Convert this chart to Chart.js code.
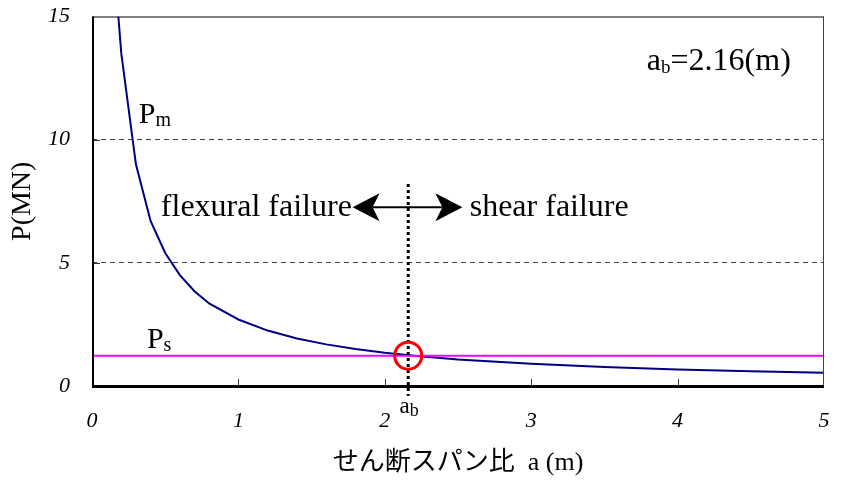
<!DOCTYPE html>
<html>
<head>
<meta charset="utf-8">
<script src="https://cdn.jsdelivr.net/npm/chart.js@4"></script>
<style>
  html, body { margin: 0; padding: 0; background: #fff; }
  #wrap { width: 843px; height: 483px; }
</style>
</head>
<body>
<div id="wrap"><canvas id="chart"></canvas></div>
<script>
// shear span a (m) and bending capacity Pm (MN)
const spanA = [0.18, 0.2, 0.3, 0.4, 0.5, 0.6, 0.7, 0.8, 1.0, 1.2, 1.4, 1.6, 1.8, 2.0, 2.2, 2.5, 3.0, 3.5, 4.0, 4.5, 5.0];
const pmVals = [15.0, 13.5, 9.0, 6.7, 5.4, 4.5, 3.85, 3.35, 2.7, 2.25, 1.93, 1.69, 1.5, 1.35, 1.23, 1.08, 0.9, 0.77, 0.67, 0.6, 0.54];
// shear capacity Ps (constant)
const psSpan = [0, 5];
const psVals = [1.23, 1.23];
// balance point
const abValue = 2.16;
const abP = 1.23;
const abLineY = [8.2, -0.4];
const yTicks = [0, 5, 10, 15];
const xTicks = [0, 1, 2, 3, 4, 5];

const serif = "'Liberation Serif', 'Times New Roman', serif";

function pts(xs, ys) {
  return xs.map((x, i) => ({ x: x, y: ys[i] }));
}

// text with a subscript, baseline at (x, y)
function subText(ctx, x, y, main, sub, size, subSize, rest) {
  ctx.font = size + "px " + serif;
  ctx.fillText(main, x, y);
  x += ctx.measureText(main).width;
  ctx.font = subSize + "px " + serif;
  ctx.fillText(sub, x, y + 3);
  x += ctx.measureText(sub).width;
  if (rest) {
    ctx.font = size + "px " + serif;
    ctx.fillText(rest, x, y);
  }
}

function arrowHead(ctx, x, y, dir) {
  ctx.beginPath();
  ctx.moveTo(x, y);
  ctx.lineTo(x - dir * 27, y - 14);
  ctx.lineTo(x - dir * 20, y);
  ctx.lineTo(x - dir * 27, y + 14);
  ctx.closePath();
  ctx.fill();
}

const decor = {
  id: 'decor',
  beforeDatasetsDraw(chart) {
    const { ctx, chartArea: a, scales: { x, y } } = chart;
    ctx.save();
    // inward tick marks on both axes
    ctx.strokeStyle = '#333';
    ctx.lineWidth = 1;
    xTicks.slice(1, -1).forEach(v => {
      const px = Math.round(x.getPixelForValue(v)) + 0.5;
      ctx.beginPath();
      ctx.moveTo(px, a.bottom);
      ctx.lineTo(px, a.bottom - 7);
      ctx.stroke();
    });
    yTicks.slice(1, -1).forEach(v => {
      const py = Math.round(y.getPixelForValue(v)) + 0.5;
      ctx.beginPath();
      ctx.moveTo(a.left, py);
      ctx.lineTo(a.left + 8, py);
      ctx.stroke();
    });
    ctx.restore();
  },
  afterDraw(chart) {
    const { ctx, chartArea: a, scales: { x, y } } = chart;
    ctx.save();
    // frame
    ctx.strokeStyle = '#000';
    ctx.lineWidth = 1;
    ctx.beginPath();
    ctx.moveTo(a.left, a.top + 0.5);
    ctx.lineTo(a.right, a.top + 0.5);
    ctx.stroke();
    ctx.strokeStyle = '#444';
    ctx.beginPath();
    ctx.moveTo(a.right - 0.5, a.top);
    ctx.lineTo(a.right - 0.5, a.bottom);
    ctx.stroke();
    ctx.strokeStyle = '#000';
    ctx.lineWidth = 2;
    ctx.beginPath();
    ctx.moveTo(a.left + 1, a.top);
    ctx.lineTo(a.left + 1, a.bottom + 1);
    ctx.stroke();
    ctx.lineWidth = 3;
    ctx.beginPath();
    ctx.moveTo(a.left, a.bottom + 0.5);
    ctx.lineTo(a.right, a.bottom + 0.5);
    ctx.stroke();

    // labels
    ctx.fillStyle = '#000';
    ctx.textBaseline = 'alphabetic';
    ctx.textAlign = 'left';
    subText(ctx, x.getPixelForValue(0.32), y.getPixelForValue(10.68), 'P', 'm', 30, 20);
    subText(ctx, x.getPixelForValue(0.375), y.getPixelForValue(1.53), 'P', 's', 30, 20);
    subText(ctx, x.getPixelForValue(2.1), y.getPixelForValue(-1.09), 'a', 'b', 23, 18);
    subText(ctx, x.getPixelForValue(3.79), y.getPixelForValue(12.82), 'a', 'b', 32, 19, '=2.16(m)');

    // failure mode arrow
    const ay = y.getPixelForValue(7.26);
    const xl = x.getPixelForValue(1.78);
    const xr = x.getPixelForValue(2.53);
    ctx.lineWidth = 2;
    ctx.beginPath();
    ctx.moveTo(xl + 20, ay);
    ctx.lineTo(xr - 20, ay);
    ctx.stroke();
    arrowHead(ctx, xl, ay, -1);
    arrowHead(ctx, xr, ay, 1);
    ctx.font = "32px " + serif;
    ctx.textAlign = 'right';
    ctx.fillText('flexural failure', x.getPixelForValue(1.775), y.getPixelForValue(6.9));
    ctx.textAlign = 'left';
    ctx.fillText('shear failure', x.getPixelForValue(2.58), y.getPixelForValue(6.9));
    ctx.restore();
  }
};

new Chart(document.getElementById('chart'), {
  type: 'scatter',
  data: {
    datasets: [
      {
        label: 'ab',
        data: [{ x: abValue, y: abP }],
        pointRadius: 13.5,
        pointBorderWidth: 3,
        pointBorderColor: '#ff0000',
        pointBackgroundColor: 'rgba(0,0,0,0)',
        clip: false
      },
      {
        label: 'ab line',
        data: pts([abValue, abValue], abLineY),
        showLine: true,
        borderColor: '#000',
        borderWidth: 3,
        borderDash: [3, 3],
        pointRadius: 0,
        clip: false
      },
      {
        label: 'Ps',
        data: pts(psSpan, psVals),
        showLine: true,
        borderColor: '#ff00ff',
        borderWidth: 2,
        pointRadius: 0
      },
      {
        label: 'Pm',
        data: pts(spanA, pmVals),
        showLine: true,
        borderColor: '#000080',
        borderWidth: 2,
        pointRadius: 0
      }
    ]
  },
  options: {
    responsive: true,
    maintainAspectRatio: false,
    animation: false,
    events: [],
    layout: { padding: { top: 14, right: 19, left: 0, bottom: 0 } },
    plugins: { legend: { display: false }, tooltip: { enabled: false } },
    scales: {
      x: {
        type: 'linear',
        min: 0,
        max: 5,
        afterFit: s => { s.height = 97; s.paddingLeft = 0; s.paddingRight = 0; },
        afterBuildTicks: s => { s.ticks = xTicks.map(v => ({ value: v })); },
        grid: { display: false, drawTicks: false },
        border: { display: false },
        ticks: {
          padding: 22,
          color: '#000',
          font: { family: serif, size: 22, style: 'italic' }
        },
        title: {
          display: true,
          text: 'せん断スパン比  a (m)',
          color: '#000',
          padding: { top: 0, bottom: 4 },
          font: { family: "'Liberation Serif', 'Noto Sans CJK JP', serif", size: 26 }
        }
      },
      y: {
        type: 'linear',
        min: 0,
        max: 15,
        afterFit: s => { s.width = 92; s.paddingTop = 0; s.paddingBottom = 0; },
        afterBuildTicks: s => { s.ticks = yTicks.map(v => ({ value: v })); },
        grid: {
          drawTicks: false,
          color: c => (c.tick && (c.tick.value === 5 || c.tick.value === 10)) ? '#444' : 'rgba(0,0,0,0)',
          lineWidth: 1
        },
        border: { display: false, dash: [5, 4] },
        ticks: {
          padding: 22,
          color: '#000',
          font: { family: serif, size: 22, style: 'italic' }
        },
        title: {
          display: true,
          text: 'P(MN)',
          color: '#000',
          padding: { top: 6, bottom: 0 },
          font: { family: serif, size: 28 }
        }
      }
    }
  },
  plugins: [decor]
});
</script>
</body>
</html>
